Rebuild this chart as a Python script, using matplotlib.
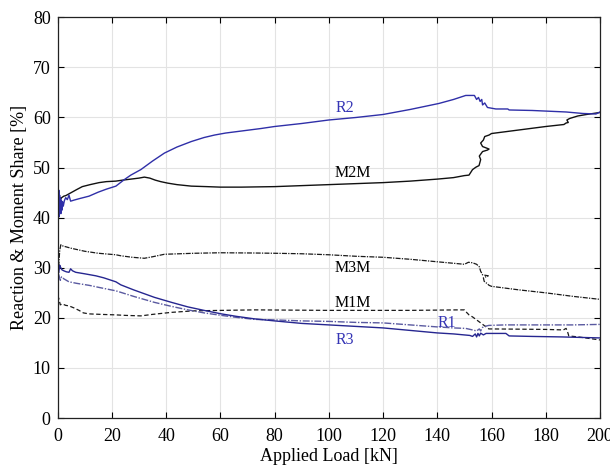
import matplotlib
matplotlib.use("Agg")
import matplotlib.pyplot as plt

plt.rcParams['font.family'] = ['Liberation Serif', 'DejaVu Serif']

# ---- data ----
r2_x = [0, 0.15, 0.3, 0.45, 0.6, 0.75, 0.9, 1.05, 1.2, 1.4, 1.6, 1.8, 2.1, 2.5, 3.0, 3.6, 4.2, 4.8, 6, 8,
        11.6, 15, 18, 21.5, 24.6, 27, 30.7, 35, 39.4, 44, 49.3, 54, 57.9, 62, 67.8, 75, 80, 90, 100, 110,
        120, 130, 140.6, 146, 150.5, 153.7, 154.5, 155.2, 155.8, 156.4, 156.7, 157.5, 158.5, 161.6, 166,
        166.5, 175, 187.5, 193.7, 198.5, 200]
r2_y = [56, 47, 41, 45.5, 40.2, 44.5, 41, 44, 40.8, 43.5, 41.5, 43.2, 42.3, 43.4, 44.0, 43.6, 44.5, 43.3, 43.5, 43.8,
        44.3, 45.1, 45.7, 46.3, 47.6, 48.5, 49.6, 51.3, 52.9, 54.1, 55.2, 56.0, 56.5, 56.9, 57.3, 57.8, 58.2, 58.8, 59.5, 60.0,
        60.6, 61.6, 62.8, 63.6, 64.4, 64.4, 63.6, 64.0, 63.2, 63.6, 62.5, 62.9, 62.0, 61.7, 61.7,
        61.5, 61.4, 61.1, 60.8, 60.7, 61.1]

m2m_x = [0, 0.3, 0.6, 1.0, 1.5, 2.3, 3, 5, 7, 9.1, 12, 15.3, 18, 21.5, 24, 27, 30, 32, 34, 36, 38, 40.6, 44,
         49.3, 55, 60, 67.8, 80, 90, 100, 110, 120, 130, 140, 146, 150, 151.7, 153, 154.3, 155.4, 156, 155.5,
         156.7, 158.5, 159.1, 156.7, 156, 157, 157.5, 159.1, 160, 170, 180, 186.7, 187.5, 188.3, 187.8, 188.8,
         191.8, 195, 200]
m2m_y = [47.5, 43.2, 44.2, 43.6, 44.0, 44.3, 44.4, 45.0, 45.6, 46.2, 46.6, 47.0, 47.2, 47.3, 47.5, 47.7, 47.9, 48.1, 47.9, 47.5, 47.2, 46.9, 46.6,
         46.3, 46.2, 46.1, 46.1, 46.2, 46.4, 46.6, 46.8, 47.0, 47.3, 47.7, 48.0, 48.4, 48.5, 49.6, 50.1, 50.4, 51.6, 52.3,
         53.2, 53.5, 53.7, 54.2, 54.9, 55.5, 56.2, 56.5, 56.8, 57.5, 58.2, 58.6, 58.9, 59.0, 59.5, 59.8,
         60.3, 60.6, 61.0]

m3m_x = [0, 0.4, 0.8, 1.2, 1.7, 3, 5, 10, 15, 21.5, 23.3, 27.5, 32, 35, 39.4, 45, 50.5, 60, 72.7, 80, 90, 100,
         110, 120, 130, 140, 146, 150, 151.5, 153, 154.5, 155.5, 156, 156.7, 158.8, 157, 157.3, 158.5, 159.1,
         160, 170, 180, 190, 200]
m3m_y = [36, 30.5, 33.5, 34.6, 34.4, 34.2, 33.9, 33.3, 32.9, 32.6, 32.4, 32.1, 31.9, 32.2, 32.7, 32.8, 32.9, 33.0, 32.95, 32.9, 32.8, 32.6,
         32.3, 32.1, 31.7, 31.2, 30.9, 30.7, 31.1, 31.0, 30.7, 30.2, 29.3, 28.6, 28.4, 28.0, 27.3, 26.8, 26.5,
         26.3, 25.6, 25.0, 24.3, 23.7]

r3_x = [0, 0.4, 0.8, 1.1, 1.6, 2.3, 3.2, 4.2, 4.8, 5.5, 6.7, 10, 14.1, 17, 21.5, 23.3, 28, 35.7, 42, 48, 54,
        60.4, 66, 72.7, 80, 90, 100, 110, 120, 130, 140, 146, 150, 152, 153, 154, 154.5, 155, 155.5, 156,
        157, 158, 160.4, 165.3, 166.5, 175, 186, 193, 200]
r3_y = [32, 29.0, 30.5, 30.1, 29.6, 29.4, 29.2, 29.1, 29.8, 29.4, 29.1, 28.8, 28.4, 28.0, 27.2, 26.6, 25.6, 24.1, 23.1, 22.2, 21.5,
        20.8, 20.3, 19.8, 19.4, 18.9, 18.6, 18.3, 18.0, 17.5, 17.0, 16.8, 16.6, 16.5, 16.3, 16.8, 16.2, 16.9, 16.4, 16.95,
        16.6, 16.9, 16.9, 16.9, 16.4, 16.3, 16.2, 16.1, 16.0]

r1_x = [0, 0.5, 1.0, 1.5, 2.3, 4.2, 7, 11.6, 16, 21.5, 23.3, 28, 35.7, 42, 48, 54, 60.4, 66, 72.7, 80, 90,
        100, 110, 120, 130, 140, 146, 150.5, 153, 154.5, 155.5, 156, 156.7, 157.5, 159, 165, 180, 190, 200]
r1_y = [31, 28.5, 27.5, 28.2, 27.8, 27.2, 26.9, 26.5, 26.0, 25.4, 25.1, 24.3, 23.1, 22.3, 21.6, 21.0, 20.5, 20.1, 19.7, 19.6, 19.4,
        19.3, 19.1, 19.0, 18.6, 18.2, 18.0, 17.9, 17.6, 17.4, 17.8, 17.4, 18.1, 18.3, 18.5, 18.6, 18.6, 18.6, 18.7]

m1m_x = [0, 0.5, 1.0, 1.7, 3, 4.2, 6, 7.9, 9.5, 11.6, 16, 21.5, 25, 30.7, 35, 41.9, 50, 60.4, 72.7, 100, 130,
         148, 150, 150.8, 151.7, 153, 154.5, 156, 157.5, 159, 170, 180, 186.5, 187.5, 188, 188.5, 192, 196, 200]
m1m_y = [24.5, 23.8, 22.6, 22.8, 22.5, 22.4, 22.0, 21.5, 21.0, 20.8, 20.7, 20.6, 20.5, 20.4, 20.7, 21.1, 21.4, 21.5, 21.6, 21.5, 21.5,
         21.6, 21.6, 21.1, 20.6, 20.2, 19.6, 19.0, 18.4, 17.8, 17.75, 17.7, 17.6, 17.9, 17.3, 16.4, 16.2, 15.9, 15.6]

labels = ["R2", "M2M", "M3M", "M1M", "R1", "R3"]
label_x = [106, 109, 109, 109, 143.5, 106]
label_y = [61.9, 48.9, 30.0, 22.9, 18.9, 15.6]

x_ticks = [0, 20, 40, 60, 80, 100, 120, 140, 160, 180, 200]
y_ticks = [0, 10, 20, 30, 40, 50, 60, 70, 80]

# ---- figure ----
fig = plt.figure(figsize=(6.10, 4.66), dpi=100)
ax = fig.add_axes([0.0944, 0.1028, 0.8892, 0.8601])

blue = '#2f2fa8'
ax.plot(m1m_x, m1m_y, color='#1a1a1a', lw=0.9, linestyle=(0, (3.5, 2.0)))
ax.plot(m3m_x, m3m_y, color='#1a1a1a', lw=0.9, linestyle=(0, (4, 1, 1, 1)))
ax.plot(m2m_x, m2m_y, color='#111111', lw=1.0, linestyle='-')
ax.plot(r1_x, r1_y, color='#5a5aa0', lw=1.0, linestyle=(0, (5, 1.2, 1, 1.2)))
ax.plot(r3_x, r3_y, color='#262690', lw=1.0, linestyle='-')
ax.plot(r2_x, r2_y, color=blue, lw=1.0, linestyle='-')

label_colors = ['#3535b5', 'black', 'black', 'black', '#3535b5', '#3535b5']
for t, xx, yy, c in zip(labels, label_x, label_y, label_colors):
    ax.text(xx, yy, t, color=c, fontsize=11.5, ha='center', va='center')

ax.set_xlim(0, 200)
ax.set_ylim(0, 80)
ax.set_xticks(x_ticks)
ax.set_yticks(y_ticks)
ax.tick_params(direction='in', top=True, right=True, length=4, width=0.8, labelsize=13, pad=5)
ax.tick_params(axis='x', pad=7)
ax.grid(True, color='#e3e3e3', lw=0.8)
ax.set_axisbelow(True)
for s in ax.spines.values():
    s.set_linewidth(0.9)
    s.set_color('#222222')
ax.set_xlabel("Applied Load [kN]", fontsize=13, labelpad=2)
ax.set_ylabel("Reaction & Moment Share [%]", fontsize=13, labelpad=3)

fig.savefig("out.png", dpi=100)
